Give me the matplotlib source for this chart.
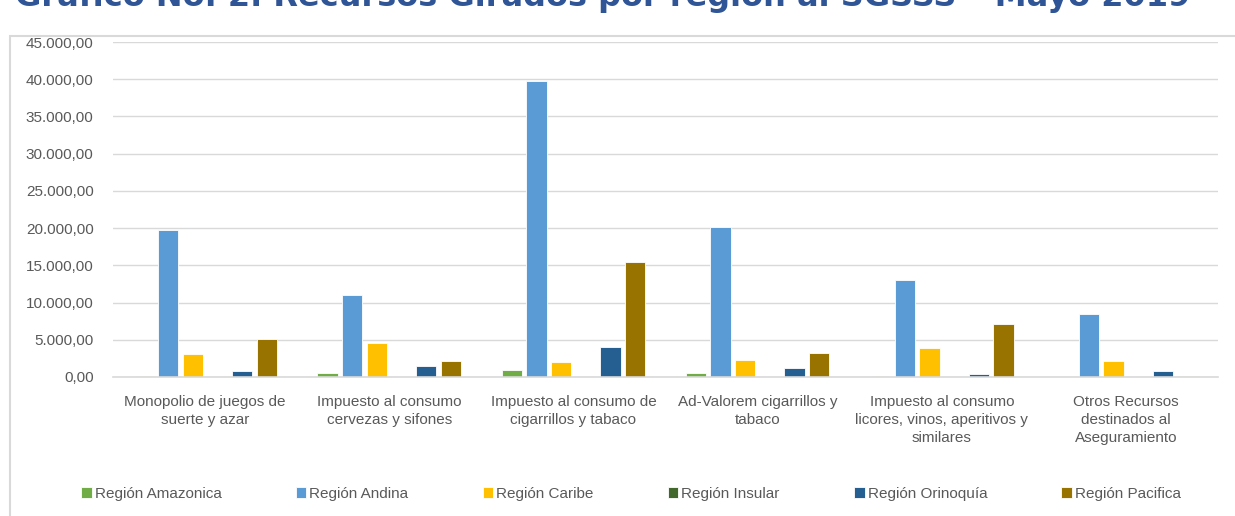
import matplotlib.pyplot as plt
import matplotlib.patches as mpatches
from matplotlib.ticker import FuncFormatter
import numpy as np

plt.rcParams['font.family'] = ['Liberation Sans', 'DejaVu Sans']

categories = [
    "Monopolio de juegos de\nsuerte y azar",
    "Impuesto al consumo\ncervezas y sifones",
    "Impuesto al consumo de\ncigarrillos y tabaco",
    "Ad-Valorem cigarrillos y\ntabaco",
    "Impuesto al consumo\nlicores, vinos, aperitivos y\nsimilares",
    "Otros Recursos\ndestinados al\nAseguramiento",
]
regions = ["Región Amazonica", "Región Andina", "Región Caribe",
           "Región Insular", "Región Orinoquía", "Región Pacifica"]
amazonica = [120, 550, 900, 500, 200, 0]
andina = [19800, 11050, 39750, 20150, 13050, 8500]
caribe = [3100, 4550, 2000, 2250, 3950, 2100]
insular = [40, 0, 0, 0, 0, 0]
orinoquia = [750, 1480, 4000, 1250, 400, 800]
pacifica = [5100, 2200, 15450, 3250, 7100, 100]
colors = ["#70AD47", "#5B9BD5", "#FFC000", "#43682B", "#255E91", "#997300"]
title = "Gráfico No. 2. Recursos Girados por región al SGSSS – Mayo 2019"

series = [amazonica, andina, caribe, insular, orinoquia, pacifica]

fig = plt.figure(figsize=(12.35, 5.16), dpi=100)
fig.patches.append(mpatches.Rectangle((10 / 1235, -0.1), 1.1, 1 - 36 / 516 + 0.1,
                                      transform=fig.transFigure, fill=False,
                                      edgecolor="#D9D9D9", linewidth=1.5))
fig.text(15 / 1235, 1 - 6 / 516, title, fontsize=23, fontweight="bold",
         color="#2F5597", va="baseline", ha="left", family="DejaVu Sans")

ax = fig.add_axes([113 / 1235, 1 - 377 / 516, 1105 / 1235, 335 / 516])
x = np.arange(len(categories))
slot = 0.134
width = 0.11
for i, (vals, name, c) in enumerate(zip(series, regions, colors)):
    ax.bar(x + (i - 2.5) * slot, vals, width, color=c, label=name,
           edgecolor="white", linewidth=0.6)

ax.set_xlim(-0.5, len(categories) - 0.5)
ax.set_ylim(0, 45000)
ax.set_yticks(np.arange(0, 45001, 5000))
ax.yaxis.set_major_formatter(FuncFormatter(
    lambda v, p: f"{v:,.2f}".replace(",", "X").replace(".", ",").replace("X", ".")))
ax.set_xticks(x)
ax.set_xticklabels(categories, fontsize=11, color="#595959", linespacing=1.35)
ax.tick_params(axis="y", labelsize=11, labelcolor="#595959", length=0, pad=14)
ax.tick_params(axis="x", length=0, pad=13)
ax.grid(axis="y", color="#D9D9D9", linewidth=1)
ax.set_axisbelow(True)
for s in ["top", "right", "left"]:
    ax.spines[s].set_visible(False)
ax.spines["bottom"].set_color("#D9D9D9")
ax.spines["bottom"].set_linewidth(1.2)

leg = fig.legend(loc="center", bbox_to_anchor=(631 / 1235, 1 - 494 / 516), ncol=6,
                 frameon=False, fontsize=11, handlelength=0.7, handleheight=0.7,
                 handletextpad=0.2, columnspacing=4.85)
for t in leg.get_texts():
    t.set_color("#595959")

fig.savefig("out.png", dpi=100)
